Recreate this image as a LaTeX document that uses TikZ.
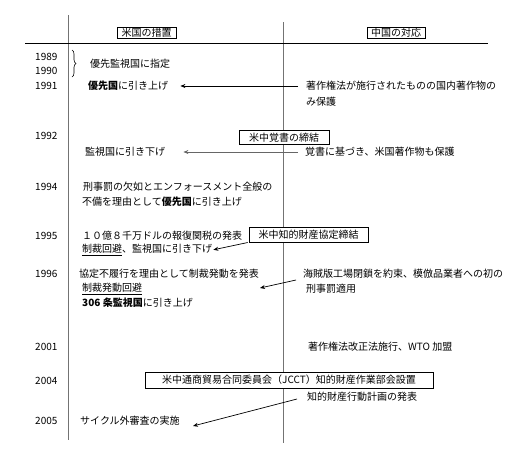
\documentclass[tikz,border=0pt]{standalone}
\usepackage{fontspec}
\setmainfont{Noto Sans CJK JP}
\usetikzlibrary{arrows.meta,decorations.pathreplacing}
\tikzset{
  txt/.style={anchor=west,inner sep=0pt,font=\fontsize{10}{12}\selectfont},
  yr/.style={anchor=west,inner sep=0pt,font=\fontsize{10}{12}\selectfont},
  bx/.style={draw=black,fill=white,line width=0.6pt,inner sep=0pt,font=\fontsize{10}{12}\selectfont},
  arr/.style={-{Stealth[length=5pt,width=4pt]},line width=0.7pt},
  vline/.style={line width=0.9pt,draw=black!55},
}
\begin{document}
\begin{tikzpicture}[x=1pt,y=-1pt]
\useasboundingbox (0,0) rectangle (530,450);
% axes
\draw[vline] (68,15) -- (68,440);
\draw[vline] (283,22) -- (283,443);
\draw[line width=0.7pt] (25,43) -- (488,43);
% headers
\node[bx,minimum width=59pt,minimum height=11pt] (hUS) at (146.5,32.5) {米国の措置};
\node[bx,minimum width=58pt,minimum height=11pt] (hCN) at (396,32.5) {中国の対応};
% years
\node[yr] (y89) at (35,57) {1989};
\node[yr] (y90) at (35,71) {1990};
\node[yr] (y91) at (35,86) {1991};
\node[yr] (y92) at (35,136) {1992};
\node[yr] (y94) at (35,187) {1994};
\node[yr] (y95) at (35,236) {1995};
\node[yr] (y96) at (35,274) {1996};
\node[yr] (y01) at (35,347) {2001};
\node[yr] (y04) at (35,381) {2004};
\node[yr] (y05) at (35,421) {2005};
% brace
\draw[decorate,decoration={brace,amplitude=4pt},line width=0.6pt] (72,50) -- (72,77);
% US side
\node[txt] (u89) at (90,64) {優先監視国に指定};
\node[txt] (u91) at (88,86) {\textbf{優先国}に引き上げ};
\node[txt] (u92) at (85,152) {監視国に引き下げ};
\node[txt] (u94a) at (83,187) {刑事罰の欠如とエンフォースメント全般の};
\node[txt] (u94b) at (82,202) {不備を理由として\textbf{優先国}に引き上げ};
\node[txt] (u95a) at (82,236) {１０億８千万ドルの報復関税の発表};
\node[txt] (u95b) at (82,250) {\underline{制裁回避}、監視国に引き下げ};
\node[txt] (u96a) at (79,274) {協定不履行を理由として制裁発動を発表};
\node[txt] (u96b) at (82,289) {\underline{制裁発動回避}};
\node[txt] (u96c) at (82,303) {\textbf{306 条監視国}に引き上げ};
\node[txt] (u05) at (80,421) {サイクル外審査の実施};
% China side
\node[txt] (c91a) at (306,86) {著作権法が施行されたものの国内著作物の};
\node[txt] (c91b) at (306,102) {み保護};
\node[txt] (c92) at (305,152) {覚書に基づき、米国著作物も保護};
\node[txt] (c96a) at (303,274) {海賊版工場閉鎖を約束、模倣品業者への初の};
\node[txt] (c96b) at (306,289) {刑事罰適用};
\node[txt] (c01) at (308,347) {著作権法改正法施行、WTO 加盟};
\node[txt] (c04) at (307,397) {知的財産行動計画の発表};
% boxes
\node[bx,minimum width=90pt,minimum height=14pt] (b92) at (284,137.5) {米中覚書の締結};
\node[bx,minimum width=119pt,minimum height=15pt] (b95) at (308.5,234.5) {米中知的財産協定締結};
\node[bx,minimum width=288pt,minimum height=16pt] (b04) at (289,380) {米中通商貿易合同委員会（JCCT）知的財産作業部会設置};
% arrows
\draw[arr,shorten <=8pt,shorten >=12pt] (c91a.west) -- (u91.east);
\draw[arr,draw=black!60,shorten <=7pt,shorten >=18pt] (c92.west) -- (u92.east);
\draw[arr,shorten <=1pt,shorten >=1pt] (b95.south west) -- (u95b.east);
\coordinate (s96) at (296,280);
\coordinate (e96) at (260,288);
\draw[arr] (s96) -- (e96);
\coordinate (s05) at (297,399);
\coordinate (e05) at (193,426);
\draw[arr] (s05) -- (e05);
\end{tikzpicture}
\end{document}
